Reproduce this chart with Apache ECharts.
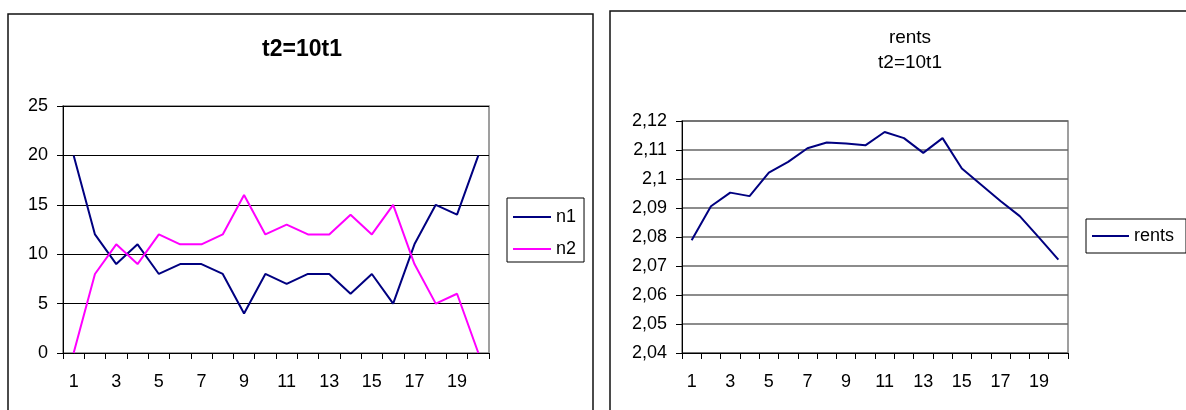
<!DOCTYPE html>
<html>
<head>
<meta charset="utf-8">
<script src="https://cdn.jsdelivr.net/npm/echarts@6/dist/echarts.min.js"></script>
<style>
html,body{margin:0;padding:0;background:#fff;}
#c{width:1186px;height:410px;}
</style>
</head>
<body>
<div id="c"></div>
<script>
// ---- data ----
var categories = ['1','2','3','4','5','6','7','8','9','10','11','12','13','14','15','16','17','18','19','20'];
var n1 = [20, 12, 9, 11, 8, 9, 9, 8, 4, 8, 7, 8, 8, 6, 8, 5, 11, 15, 14, 20];
var n2 = [0, 8, 11, 9, 12, 11, 11, 12, 16, 12, 13, 12, 12, 14, 12, 15, 9, 5, 6, 0];
var rents = [2.0789, 2.0906, 2.0953, 2.0941, 2.1022, 2.1059, 2.1106, 2.1126, 2.1122, 2.1116,
             2.1162, 2.1141, 2.1090, 2.1141, 2.1036, 2.0980, 2.0924, 2.0872, 2.0798, 2.0722];
var leftTitle = 't2=10t1';
var rightTitle = 'rents\nt2=10t1';

var FONT = '"Liberation Sans", Arial, sans-serif';
var chart = echarts.init(document.getElementById('c'), null, {renderer: 'canvas'});

function commaFmt(v) {
  var s = (Math.round(v * 100) / 100).toFixed(2);
  s = s.replace(/0+$/, '').replace(/\.$/, '');
  return s.replace('.', ',');
}

var xAxisBase = function (gi) {
  return {
    type: 'category', gridIndex: gi, data: categories, boundaryGap: true,
    axisLine: {lineStyle: {color: '#000', width: 1}},
    axisTick: {show: true, interval: 0, alignWithLabel: false, length: 6, lineStyle: {color: '#000'}},
    axisLabel: {interval: 1, margin: 20, color: '#000', fontSize: 18, fontFamily: FONT},
    splitLine: {show: false}
  };
};

var option = {
  backgroundColor: '#fff',
  animation: false,
  textStyle: {fontFamily: FONT},
  graphic: [
    {type: 'rect', shape: {x: 8, y: 14, width: 585, height: 500}, style: {fill: 'none', stroke: '#111', lineWidth: 1.5}, z: 0},
    {type: 'rect', shape: {x: 610, y: 11, width: 700, height: 500}, style: {fill: 'none', stroke: '#111', lineWidth: 1.5}, z: 0}
  ],
  title: [
    {text: leftTitle, left: 297, top: 33, textAlign: 'center',
     textStyle: {fontFamily: FONT, fontWeight: 'bold', fontSize: 23, color: '#000'}},
    {text: rightTitle, left: 905, top: 20, textAlign: 'center',
     textStyle: {fontFamily: FONT, fontWeight: 'normal', fontSize: 19, lineHeight: 25, color: '#000'}}
  ],
  legend: [
    {data: ['n1', 'n2'], orient: 'vertical', left: 507, top: 198,
     icon: 'rect', itemWidth: 38, itemHeight: 2, itemGap: 14, padding: [10, 8, 4, 6],
     borderColor: '#000', borderWidth: 1, backgroundColor: '#fff',
     textStyle: {fontFamily: FONT, fontSize: 18, color: '#000'}},
    {data: ['rents'], orient: 'vertical', left: 1086, top: 219,
     icon: 'rect', itemWidth: 37, itemHeight: 2, padding: [8, 12, 8, 6],
     borderColor: '#000', borderWidth: 1, backgroundColor: '#fff',
     textStyle: {fontFamily: FONT, fontSize: 18, color: '#000'}}
  ],
  grid: [
    {left: 63, top: 106, width: 426, height: 247, show: true, borderColor: '#808080', borderWidth: 1.5, backgroundColor: '#fff'},
    {left: 682, top: 121, width: 386, height: 232, show: true, borderColor: '#808080', borderWidth: 1.5, backgroundColor: '#fff'}
  ],
  xAxis: [xAxisBase(0), xAxisBase(1)],
  yAxis: [
    {type: 'value', gridIndex: 0, min: 0, max: 25, interval: 5,
     axisLine: {show: true, lineStyle: {color: '#000'}},
     axisTick: {show: true, length: 6, lineStyle: {color: '#000'}},
     axisLabel: {margin: 15, color: '#000', fontSize: 18, fontFamily: FONT},
     splitLine: {show: true, lineStyle: {color: '#000', width: 1}}},
    {type: 'value', gridIndex: 1, min: 2.04, max: 2.12, interval: 0.01,
     axisLine: {show: true, lineStyle: {color: '#000'}},
     axisTick: {show: true, length: 6, lineStyle: {color: '#000'}},
     axisLabel: {margin: 15, color: '#000', fontSize: 18, fontFamily: FONT, formatter: commaFmt},
     splitLine: {show: true, lineStyle: {color: '#666', width: 1.5}}}
  ],
  series: [
    {name: 'n1', type: 'line', xAxisIndex: 0, yAxisIndex: 0, data: n1, symbol: 'none',
     lineStyle: {color: '#000080', width: 2}, itemStyle: {color: '#000080'}},
    {name: 'n2', type: 'line', xAxisIndex: 0, yAxisIndex: 0, data: n2, symbol: 'none',
     lineStyle: {color: '#FF00FF', width: 2}, itemStyle: {color: '#FF00FF'}},
    {name: 'rents', type: 'line', xAxisIndex: 1, yAxisIndex: 1, data: rents, symbol: 'none',
     lineStyle: {color: '#000080', width: 2}, itemStyle: {color: '#000080'}}
  ]
};
chart.setOption(option);
</script>
</body>
</html>
